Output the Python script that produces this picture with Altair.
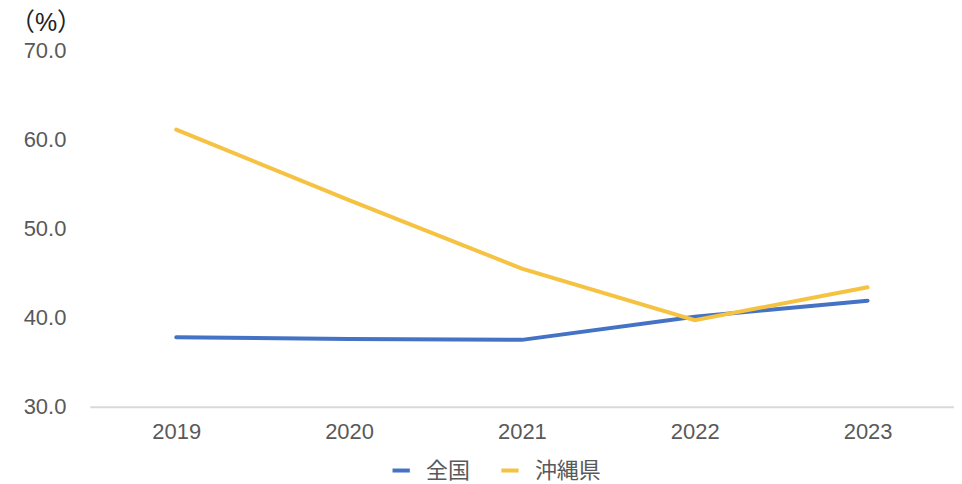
import altair as alt
import pandas as pd

years = ["2019", "2020", "2021", "2022", "2023"]
zenkoku = [37.8, 37.6, 37.5, 40.1, 41.9]
okinawa = [61.1, 53.2, 45.5, 39.7, 43.4]
series_names = ["全国", "沖縄県"]
colors = ["#4472C4", "#F5C242"]

rows = []
for name, vals in zip(series_names, [zenkoku, okinawa]):
    for y, v in zip(years, vals):
        rows.append({"year": y, "value": v, "series": name})
df = pd.DataFrame(rows)

FONT = "Liberation Sans, Noto Sans CJK JP, sans-serif"

line = alt.Chart(df).mark_line(strokeWidth=4, strokeCap="round").encode(
    x=alt.X("year:N", sort=years, title=None,
            scale=alt.Scale(type="point", padding=0.5),
            axis=alt.Axis(labelAngle=0, labelFontSize=22, labelColor="#595959",
                          labelFont=FONT, ticks=False, domain=True,
                          domainColor="#D9D9D9", domainWidth=2, labelPadding=15,
                          grid=False)),
    y=alt.Y("value:Q", title=None,
            scale=alt.Scale(domain=[30, 70], nice=False, zero=False),
            axis=alt.Axis(values=[30, 40, 50, 60, 70], format=".1f",
                          labelFontSize=22, labelColor="#595959", labelFont=FONT,
                          ticks=False, domain=False, grid=False, labelPadding=24)),
    color=alt.Color("series:N", sort=series_names,
                    scale=alt.Scale(domain=series_names, range=colors),
                    legend=alt.Legend(orient="none", legendX=301, legendY=410,
                                      direction="horizontal", title=None,
                                      symbolType="stroke", symbolStrokeWidth=4,
                                      symbolSize=300, labelFontSize=22,
                                      labelFont=FONT, labelColor="#595959",
                                      columnPadding=22, labelOffset=14, padding=0)),
)

unit = alt.Chart(pd.DataFrame({"t": ["（%）"]})).mark_text(
    fontSize=25, font=FONT, color="#222222", align="left", baseline="middle"
).encode(x=alt.value(-80), y=alt.value(-27), text="t:N")

chart = alt.layer(line, unit).properties(
    width=866, height=357,
    autosize=alt.AutoSizeParams(type="none"),
    padding={"left": 82, "top": 42, "right": 0, "bottom": 75},
).configure_view(stroke=None, strokeWidth=0)

chart.save("out.html", embed_options={"renderer": "svg", "actions": False})
